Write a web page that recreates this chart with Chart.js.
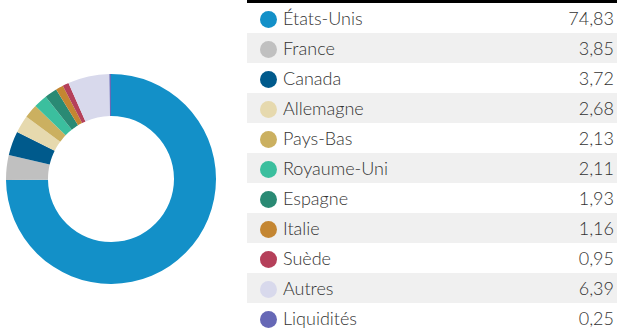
<!DOCTYPE html>
<html lang="fr">
<head>
<meta charset="utf-8">
<script src="https://cdn.jsdelivr.net/npm/chart.js@4/dist/chart.umd.min.js"></script>
<style>
  html, body { margin: 0; padding: 0; background: #fff; }
  body { width: 617px; height: 329px; position: relative; overflow: hidden; font-family: Lato, "Open Sans", sans-serif; }
  #pie { position: absolute; left: 6px; top: 74px; width: 210px; height: 210px; }
  #legend { position: absolute; left: 247px; top: 0; width: 370px; border-top: 3px solid #000; border-collapse: collapse; }
  #legend td { height: 30px; padding: 0; font-size: 18px; font-weight: 300; color: #333; }
  #legend tr:nth-child(even) td { background: #f0f0f0; }
  .dot { display: inline-block; width: 17px; height: 17px; border-radius: 50%; margin: 0 6px 0 13px; vertical-align: -3px; }
  .val { text-align: right; padding-right: 3px !important; }
</style>
</head>
<body>
<div id="pie"><canvas id="canvas"></canvas></div>
<table id="legend"></table>
<script>
  const pays = ['États-Unis', 'France', 'Canada', 'Allemagne', 'Pays-Bas', 'Royaume-Uni', 'Espagne', 'Italie', 'Suède', 'Autres', 'Liquidités'];
  const parts = [74.83, 3.85, 3.72, 2.68, 2.13, 2.11, 1.93, 1.16, 0.95, 6.39, 0.25];
  const couleurs = ['#1390c8', '#c0c0c0', '#005a8c', '#e6d9ae', '#cbb060', '#3bbf9e', '#2a8a74', '#c48632', '#b5405a', '#d8d9ec', '#6668b6'];

  // tableau de légende à droite
  const legend = document.getElementById('legend');
  pays.forEach(function (nom, i) {
    const tr = document.createElement('tr');
    const td1 = document.createElement('td');
    const dot = document.createElement('span');
    dot.className = 'dot';
    dot.style.background = couleurs[i];
    td1.appendChild(dot);
    td1.appendChild(document.createTextNode(nom));
    const td2 = document.createElement('td');
    td2.className = 'val';
    td2.textContent = parts[i].toFixed(2).replace('.', ',');
    tr.appendChild(td1);
    tr.appendChild(td2);
    legend.appendChild(tr);
  });

  const canvas = document.getElementById('canvas');
  const chart = new Chart(canvas, {
    type: 'doughnut',
    data: {
      labels: pays,
      datasets: [{
        data: parts,
        backgroundColor: couleurs,
        borderWidth: 0,
      }],
    },
    options: {
      responsive: true,
      maintainAspectRatio: false,
      animation: false,
      cutout: '60%',
      plugins: {
        legend: { display: false },
        tooltip: { enabled: false },
      },
    },
  });
</script>
</body>
</html>
